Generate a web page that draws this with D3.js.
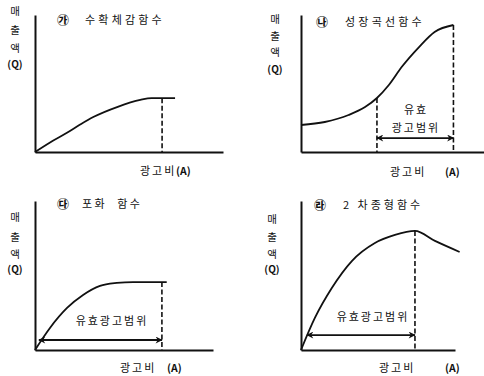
<!DOCTYPE html>
<html>
<head>
<meta charset="utf-8">
<script src="https://cdn.jsdelivr.net/npm/d3@7"></script>
<style>
  body { margin: 0; background: #fff; }
  text { font-family: "Noto Sans CJK KR", "Noto Sans", sans-serif; fill: #111; }
</style>
</head>
<body>
<div id="chart"></div>
<script>
// curve values, x and y in 0..100 of each panel's axis length
var curveDiminishing = [[0,0],[8,7],[17,14],[24,20],[31,25.5],[44,33],[56,38],[62,39.3],[74.5,39.3]];
var curveGrowth = [[0,19.7],[13,21.9],[26,27],[35,32.8],[41.5,39.4],[48,48.9],[55,62],[64.5,76.6],[73,87.6],[83.3,92.7]];
var curveSaturation = [[0,0],[8.4,14.8],[18,28.2],[27,36.9],[36.5,43],[46,45],[55,45.6],[74,45.6]];
var curveQuadratic = [[0,0],[9,21.5],[20,41.6],[33,59.7],[48,71.8],[61,77.2],[74,79.9],[87,73.2],[103,65.8]];

// dashed drop lines [x, yTop]
var dropDiminishing = [[67.6,39.3]];
var dropGrowth = [[41.5,39.4],[83.3,92.7]];
var dropSaturation = [[71.3,45.6]];
var dropQuadratic = [[74,79.9]];

// effective range arrows [xFrom, xTo, y]
var rangeGrowth = [41.5, 83.3, 10.2];
var rangeSaturation = [2.2, 71.3, 6.7];
var rangeQuadratic = [3.9, 74, 10];

var markers = ["㉮", "㉯", "㉰", "㉱"];
var titles = ["수확체감함수", "성장곡선함수", "포화  함수", "2 차종형함수"];
var yLabel = ["매", "출", "액", "(Q)"];
var xLabel = "광고비";
var rangeLabel = "유효광고범위";

var width = 484, height = 376;

var svg = d3.select('#chart')
    .append('svg')
    .attr('width', width)
    .attr('height', height);

var defs = svg.append('defs');
['start', 'end'].forEach(function(k) {
    defs.append('marker')
        .attr('id', 'arrow-' + k)
        .attr('viewBox', '0 0 10 10')
        .attr('refX', k == 'end' ? 9 : 1)
        .attr('refY', 5)
        .attr('markerWidth', 8)
        .attr('markerHeight', 7)
        .attr('markerUnits', 'userSpaceOnUse')
        .attr('orient', 'auto')
      .append('path')
        .attr('d', k == 'end' ? 'M0,0 L10,5 L0,10 L3,5 Z' : 'M10,0 L0,5 L10,10 L7,5 Z')
        .attr('fill', '#111');
});

function drawPanel(p) {
    var x = d3.scaleLinear().domain([0, 100]).range([p.ox, p.xEnd]);
    var y = d3.scaleLinear().domain([0, 100]).range([p.oy, p.yTop]);
    var g = svg.append('g');

    // axes
    g.append('g')
        .attr('transform', 'translate(0,' + p.oy + ')')
        .call(d3.axisBottom(x).tickValues([]).tickSizeOuter(0))
        .select('.domain').attr('stroke', '#111').attr('stroke-width', 2);
    g.append('g')
        .attr('transform', 'translate(' + p.ox + ',0)')
        .call(d3.axisLeft(y).tickValues([]).tickSizeOuter(0))
        .select('.domain').attr('stroke', '#111').attr('stroke-width', 2);

    // curve
    var line = d3.line()
        .x(function(d) { return x(d[0]); })
        .y(function(d) { return y(d[1]); })
        .curve(d3.curveMonotoneX);
    g.append('path')
        .datum(p.curve)
        .attr('d', line)
        .attr('fill', 'none')
        .attr('stroke', '#111')
        .attr('stroke-width', 1.8);

    // dashed drops
    g.selectAll('line.drop')
        .data(p.drops)
        .enter()
        .append('line')
        .attr('class', 'drop')
        .attr('x1', function(d) { return x(d[0]); })
        .attr('x2', function(d) { return x(d[0]); })
        .attr('y1', function(d) { return y(d[1]); })
        .attr('y2', y(0))
        .attr('stroke', '#111')
        .attr('stroke-width', 1.6)
        .attr('stroke-dasharray', '5,2.5');

    // arrow
    if (p.range) {
        g.append('line')
            .attr('x1', x(p.range[0]))
            .attr('x2', x(p.range[1]))
            .attr('y1', y(p.range[2]))
            .attr('y2', y(p.range[2]))
            .attr('stroke', '#111')
            .attr('stroke-width', 1.8)
            .attr('marker-start', 'url(#arrow-start)')
            .attr('marker-end', 'url(#arrow-end)');
    }

    // title
    g.append('text')
        .attr('x', p.title[0])
        .attr('y', p.title[1])
        .attr('text-anchor', 'middle')
        .attr('dominant-baseline', 'central')
        .attr('font-size', 12)
        .attr('font-weight', 'bold')
        .text(markers[p.i]);
    g.append('text')
        .attr('x', p.title[2])
        .attr('y', p.title[1])
        .attr('dominant-baseline', 'central')
        .attr('font-size', 11)
        .attr('letter-spacing', p.title[3])
        .style('white-space', 'pre')
        .text(titles[p.i]);

    // y label
    g.selectAll('text.ylab')
        .data(yLabel)
        .enter()
        .append('text')
        .attr('class', 'ylab')
        .attr('x', p.ylab[0])
        .attr('y', function(d, i) { return p.ylab[1][i]; })
        .attr('text-anchor', 'middle')
        .attr('dominant-baseline', 'central')
        .attr('font-size', function(d, i) { return i == 3 ? 10 : 10.5; })
        .attr('font-weight', function(d, i) { return i == 3 ? 'bold' : 'normal'; })
        .text(function(d) { return d; });

    // x label
    g.append('text')
        .attr('x', p.xlab[0])
        .attr('y', p.xlab[2])
        .attr('dominant-baseline', 'central')
        .attr('font-size', 11)
        .attr('letter-spacing', 2)
        .text(xLabel);
    g.append('text')
        .attr('x', p.xlab[1])
        .attr('y', p.xlab[2])
        .attr('dominant-baseline', 'central')
        .attr('font-size', 10.5)
        .attr('font-weight', 'bold')
        .text('(A)');

    // range text
    p.rtext.forEach(function(t) {
        g.append('text')
            .attr('x', t[0])
            .attr('y', t[1])
            .attr('text-anchor', 'middle')
            .attr('dominant-baseline', 'central')
            .attr('font-size', 11)
            .attr('letter-spacing', 2)
            .text(t[2]);
    });
}

drawPanel({ i: 0, ox: 35, oy: 152, xEnd: 223, yTop: 15,
    curve: curveDiminishing, drops: dropDiminishing, range: null,
    title: [63, 19, 85, 3.2], ylab: [15, [10, 29, 47, 63]],
    xlab: [140, 176, 170], rtext: [] });

drawPanel({ i: 1, ox: 301, oy: 152, xEnd: 484, yTop: 15,
    curve: curveGrowth, drops: dropGrowth, range: rangeGrowth,
    title: [322, 21, 345, 3.2], ylab: [275, [18, 35, 51, 68]],
    xlab: [390, 445, 171],
    rtext: [[416, 109, '유효'], [416, 127, '광고범위']] });

drawPanel({ i: 2, ox: 35, oy: 350, xEnd: 213, yTop: 201,
    curve: curveSaturation, drops: dropSaturation, range: rangeSaturation,
    title: [63, 203, 82, 2.5], ylab: [15, [216, 236, 253, 268]],
    xlab: [120, 167, 367],
    rtext: [[112, 320, rangeLabel]] });

drawPanel({ i: 3, ox: 301, oy: 350, xEnd: 455, yTop: 201,
    curve: curveQuadratic, drops: dropQuadratic, range: rangeQuadratic,
    title: [320, 204, 343, 3], ylab: [272, [218, 236, 253, 268]],
    xlab: [379, 445, 367],
    rtext: [[373, 316, rangeLabel]] });
</script>
</body>
</html>
